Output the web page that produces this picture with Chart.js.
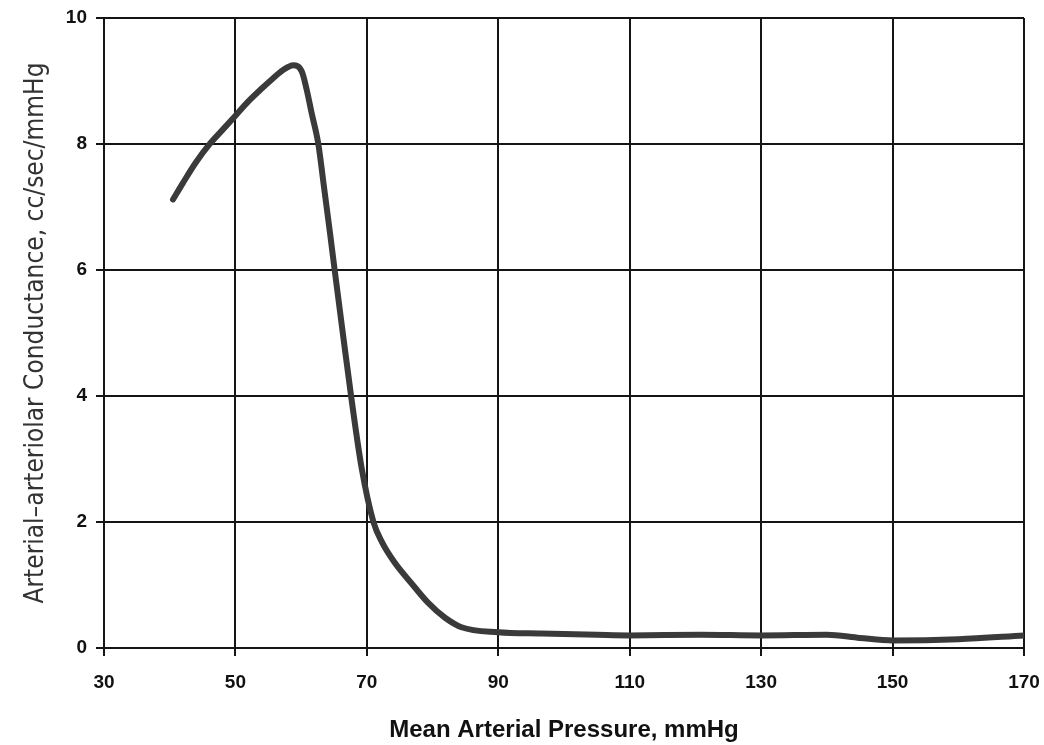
<!DOCTYPE html>
<html>
<head>
<meta charset="utf-8">
<script src="https://cdn.jsdelivr.net/npm/chart.js@4.4.0/dist/chart.umd.min.js"></script>
<style>
  html, body { margin: 0; padding: 0; background: #ffffff; }
  #wrap { width: 1044px; height: 745px; }
</style>
</head>
<body>
<div id="wrap"><canvas id="c" width="1044" height="745"></canvas></div>
<script>
// Mean arterial pressure (mmHg)
const pressure = [40.5, 42, 44, 46, 48, 50, 52, 54, 55.7, 57.2, 58.8, 60.1, 60.85, 61.6, 62.6, 63.5, 64.4, 65.1, 66.4, 67.6, 69.2, 71.0, 72.3, 74.2, 77.0, 79.3, 81.9, 84.4, 90, 96.6, 105, 110, 120.8, 130, 140, 145, 150, 160, 170];
// Arterial-arteriolar conductance (cc/sec/mmHg)
const conductance = [7.12, 7.38, 7.71, 7.99, 8.22, 8.45, 8.68, 8.88, 9.04, 9.17, 9.25, 9.15, 8.86, 8.49, 8.01, 7.3, 6.58, 6.0, 4.95, 4.0, 2.86, 2.0, 1.68, 1.36, 1.0, 0.72, 0.48, 0.33, 0.25, 0.23, 0.21, 0.2, 0.21, 0.2, 0.21, 0.16, 0.12, 0.14, 0.2];
const xTicks = [30, 50, 70, 90, 110, 130, 150, 170];
const yTicks = [0, 2, 4, 6, 8, 10];
const xTitle = 'Mean Arterial Pressure, mmHg';
const yTitle = 'Arterial\u2013arteriolar Conductance, cc/sec/mmHg';

const points = pressure.map((p, i) => ({ x: p, y: conductance[i] }));

new Chart(document.getElementById('c'), {
  type: 'line',
  data: {
    datasets: [{
      data: points,
      borderColor: '#3a3a3a',
      borderWidth: 6,
      borderCapStyle: 'round',
      borderJoinStyle: 'round',
      pointRadius: 0,
      fill: false,
      cubicInterpolationMode: 'monotone'
    }]
  },
  options: {
    responsive: false,
    animation: false,
    devicePixelRatio: 1,
    layout: { padding: { left: 0, right: 20, top: 18, bottom: 0 } },
    plugins: { legend: { display: false }, tooltip: { enabled: false } },
    scales: {
      x: {
        type: 'linear',
        min: xTicks[0],
        max: xTicks[xTicks.length - 1],
        afterBuildTicks: (s) => { s.ticks = xTicks.map(v => ({ value: v })); },
        afterFit: (s) => { s.height = 97; s.paddingLeft = 0; s.paddingRight = 0; },
        grid: { color: '#151515', lineWidth: 2, tickLength: 8, drawTicks: true },
        border: { color: '#151515', width: 2 },
        ticks: {
          padding: 15,
          color: '#111',
          font: { family: 'Liberation Sans, Arial, sans-serif', size: 19, weight: 'bold' }
        },
        title: {
          display: true,
          text: xTitle,
          color: '#111',
          padding: { top: 0, bottom: 0 },
          font: { family: 'Liberation Sans, Arial, sans-serif', size: 24, weight: 'bold' }
        }
      },
      y: {
        type: 'linear',
        min: yTicks[0],
        max: yTicks[yTicks.length - 1],
        afterBuildTicks: (s) => { s.ticks = yTicks.map(v => ({ value: v })); },
        afterFit: (s) => { s.width = 104; s.paddingTop = 0; s.paddingBottom = 0; },
        grid: { color: '#151515', lineWidth: 2, tickLength: 8, drawTicks: true },
        border: { color: '#151515', width: 2 },
        ticks: {
          padding: 9,
          color: '#111',
          font: { family: 'Liberation Sans, Arial, sans-serif', size: 19, weight: 'bold' }
        },
        title: {
          display: true,
          text: yTitle,
          color: '#333',
          padding: { top: 21, bottom: 0 },
          align: 'center',
          font: { family: '"Liberation Sans Narrow", "DejaVu Sans Condensed", sans-serif', size: 26, weight: 'normal' }
        }
      }
    }
  }
});
</script>
</body>
</html>
